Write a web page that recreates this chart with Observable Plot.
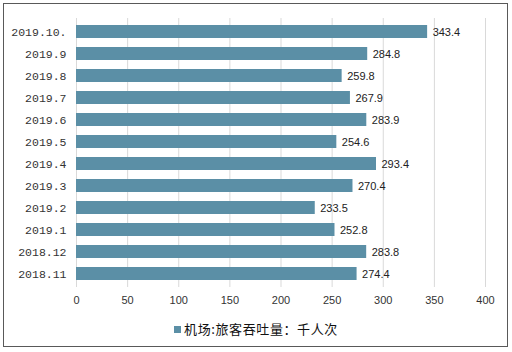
<!DOCTYPE html>
<html><head><meta charset="utf-8">
<script src="https://cdn.jsdelivr.net/npm/d3@7"></script>
<script src="https://cdn.jsdelivr.net/npm/@observablehq/plot@0.6"></script>
<style>
body{margin:0;background:#fff;}
#wrap{position:relative;width:512px;height:352px;overflow:hidden;}
#frame{position:absolute;left:3px;top:3px;width:503px;height:342px;border:1px solid #595959;pointer-events:none;}
#chart{position:absolute;left:0;top:0;}
#legend{position:absolute;left:0;top:319px;width:512px;text-align:center;font:13px "Noto Sans CJK SC",sans-serif;letter-spacing:0.6px;color:#111;}
#legend span.sw{display:inline-block;width:7px;height:7px;background:#5B8FA6;margin-right:3px;vertical-align:1px;}
</style></head>
<body><div id="wrap"><div id="chart"></div><div id="legend"><span class="sw"></span><span id="lt"></span></div><div id="frame"></div></div>
<script>
const months = ["2019.10.","2019.9","2019.8","2019.7","2019.6","2019.5","2019.4","2019.3","2019.2","2019.1","2018.12","2018.11"];
const values = [343.4,284.8,259.8,267.9,283.9,254.6,293.4,270.4,233.5,252.8,283.8,274.4];
const xTicks = [0,50,100,150,200,250,300,350,400];
const seriesName = "机场:旅客吞吐量：千人次";
const data = months.map((m,i)=>({month:m,value:values[i]}));
const color = "#5B8FA6";
document.getElementById("lt").textContent = seriesName;
const chart = Plot.plot({
  width:512, height:316,
  marginLeft:76, marginRight:27, marginTop:18, marginBottom:29,
  style:{fontFamily:"Liberation Sans, Arial, sans-serif", fontSize:"11px", color:"#333"},
  x:{domain:[0,400], ticks:xTicks, label:null},
  y:{domain:months, paddingInner:0.42, paddingOuter:0.21, label:null},
  marks:[
    Plot.gridX(xTicks,{stroke:"#d9d9d9", strokeOpacity:1}),
    Plot.barX(data,{y:"month", x:"value", fill:color}),
    Plot.text(data,{y:"month", x:"value", text:d=>d.value.toFixed(1), textAnchor:"start", dx:5, fill:"#222", fontSize:11}),
    Plot.axisX(xTicks,{tickSize:0, tickPadding:9, fontSize:11, fill:"#333", label:null}),
    Plot.axisY({tickSize:0, tickPadding:10, fontFamily:"Liberation Mono, monospace", fontSize:11.5, fill:"#333", label:null})
  ]
});
document.getElementById("chart").appendChild(chart);
</script></body></html>
